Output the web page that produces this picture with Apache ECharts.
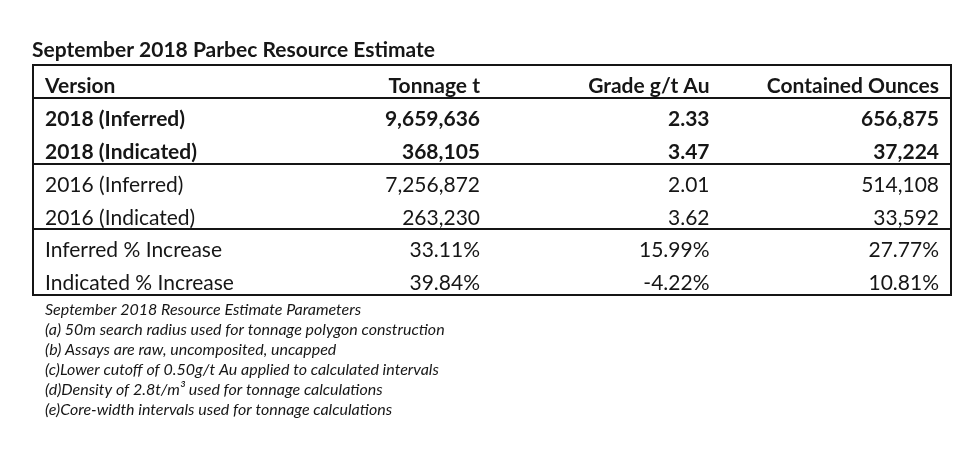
<!DOCTYPE html>
<html>
<head>
<meta charset="utf-8">
<script src="https://cdn.jsdelivr.net/npm/echarts@6/dist/echarts.min.js"></script>
<style>
html,body{margin:0;padding:0;background:#fff;}
#chart{width:975px;height:461px;}
</style>
</head>
<body>
<div id="chart"></div>
<script>
const titleText = 'September 2018 Parbec Resource Estimate';
const columns = ['Version', 'Tonnage t', 'Grade g/t Au', 'Contained Ounces'];
const versions = ['2018 (Inferred)', '2018 (Indicated)', '2016 (Inferred)', '2016 (Indicated)'];
const tonnage = [9659636, 368105, 7256872, 263230];
const grade = [2.33, 3.47, 2.01, 3.62];
const ounces = [656875, 37224, 514108, 33592];
const increaseLabels = ['Inferred % Increase', 'Indicated % Increase'];
const tonnageIncrease = [33.11, 39.84];
const gradeIncrease = [15.99, -4.22];
const ouncesIncrease = [27.77, 10.81];
const boldRowCount = 3; // header + 2018 rows
const separatorRows = [1, 3, 5];
const footnotes = [
  'September 2018 Resource Estimate Parameters',
  '(a) 50m search radius used for tonnage polygon construction',
  '(b) Assays are raw, uncomposited, uncapped',
  '(c)Lower cutoff of 0.50g/t Au applied to calculated intervals',
  '(d)Density of 2.8t/m\u00B3 used for tonnage calculations',
  '(e)Core-width intervals used for tonnage calculations'
];

const fmtInt = v => v.toLocaleString('en-US');
const fmtDec = v => v.toFixed(2);
const fmtPct = v => v.toFixed(2) + '%';

const rowLabels = ['header'].concat(versions, increaseLabels);
const rows = [columns];
versions.forEach((v, i) => rows.push([v, fmtInt(tonnage[i]), fmtDec(grade[i]), fmtInt(ounces[i])]));
increaseLabels.forEach((v, i) => rows.push([v, fmtPct(tonnageIncrease[i]), fmtPct(gradeIncrease[i]), fmtPct(ouncesIncrease[i])]));

const cells = [];
rows.forEach((r, ri) => r.forEach((t, ci) => cells.push({ value: [ci, ri], text: t, bold: ri < boldRowCount })));

const FONT = 'Lato, "Open Sans", sans-serif';
const TXT = '#161616';

const chart = echarts.init(document.getElementById('chart'), null, { renderer: 'canvas' });
chart.setOption({
  backgroundColor: '#ffffff',
  animation: false,
  title: {
    text: titleText,
    left: 32, top: 40,
    padding: 0,
    textStyle: { fontFamily: FONT, fontWeight: 'bold', fontSize: 21, color: TXT }
  },
  grid: {
    left: 33, top: 65, width: 918, height: 230,
    show: true, borderColor: '#151515', borderWidth: 2, backgroundColor: 'transparent'
  },
  xAxis: { type: 'category', data: columns, show: false, boundaryGap: true },
  yAxis: { type: 'category', data: rowLabels, inverse: true, show: false, boundaryGap: true },
  series: [
    {
      type: 'custom',
      coordinateSystem: 'cartesian2d',
      data: cells.map(c => c.value),
      silent: true,
      renderItem: function (params, api) {
        const cell = cells[params.dataIndex];
        const c = api.coord([api.value(0), api.value(1)]);
        const w = api.size([1, 0])[0];
        const left = api.value(0) === 0;
        return {
          type: 'text',
          style: {
            text: cell.text,
            x: left ? c[0] - w / 2 + 12 : c[0] + w / 2 - 12,
            y: c[1] + 5,
            align: left ? 'left' : 'right',
            verticalAlign: 'middle',
            fill: TXT,
            font: (cell.bold ? 'bold ' : '') + '21px ' + FONT
          }
        };
      }
    },
    {
      type: 'custom',
      coordinateSystem: 'cartesian2d',
      data: separatorRows.map(r => [0, r]),
      silent: true,
      renderItem: function (params, api) {
        const c = api.coord([api.value(0), api.value(1)]);
        const h = api.size([0, 1])[1];
        const cs = params.coordSys;
        const y = Math.round(c[1] - h / 2);
        return {
          type: 'line',
          shape: { x1: cs.x, y1: y, x2: cs.x + cs.width, y2: y },
          style: { stroke: '#151515', lineWidth: 2 }
        };
      }
    }
  ],
  graphic: [
    {
      type: 'text',
      left: 45, top: 300,
      style: {
        text: footnotes.join('\n'),
        font: 'italic 16px ' + FONT,
        lineHeight: 20,
        fill: TXT
      }
    }
  ]
});
</script>
</body>
</html>
